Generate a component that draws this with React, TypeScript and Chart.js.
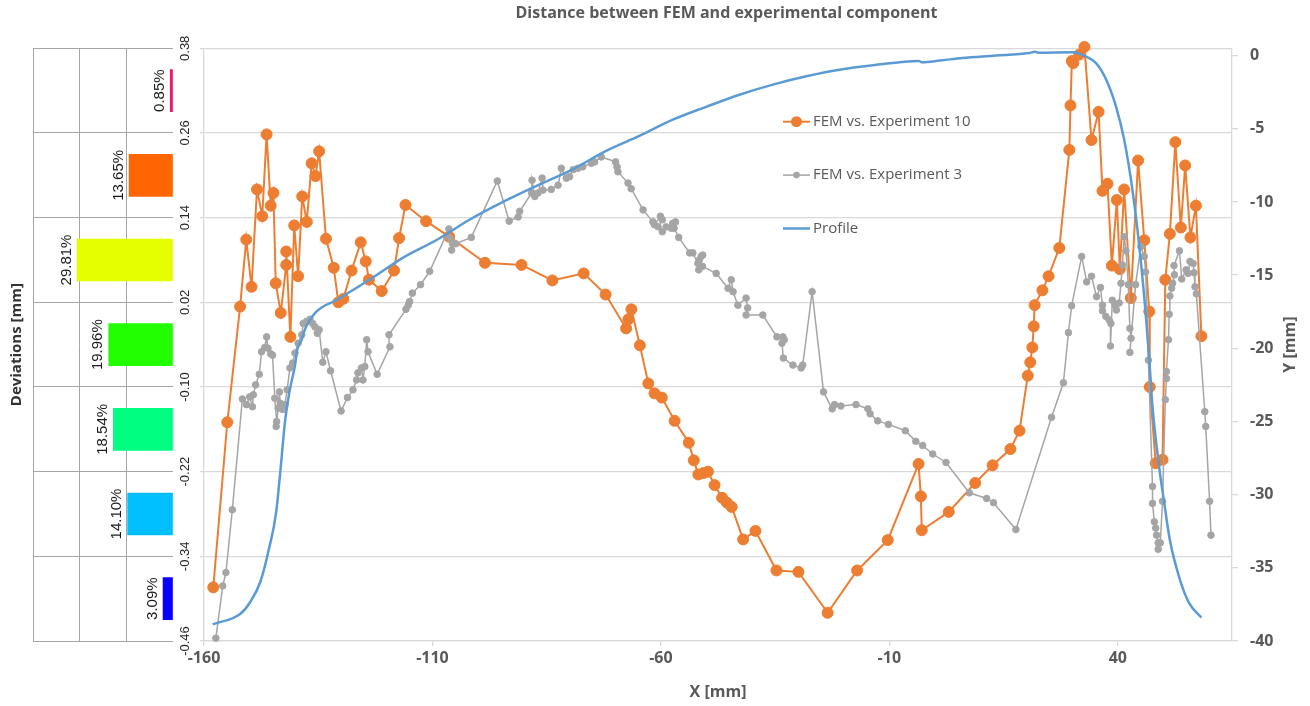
import React, { useEffect, useRef } from 'react';
import { Chart, registerables } from 'chart.js';

Chart.register(...registerables);

const TITLE = 'Distance between FEM and experimental component';
const X_TITLE = 'X [mm]';
const Y_TITLE = 'Y [mm]';
const DEV_TITLE = 'Deviations [mm]';

const X_TICKS = [-160, -110, -60, -10, 40];
const DEV_TICKS = [0.38, 0.26, 0.14, 0.02, -0.1, -0.22, -0.34, -0.46];
const Y_TICKS = [0, -5, -10, -15, -20, -25, -30, -35, -40];

const SERIES_NAMES = ['FEM vs. Experiment 10', 'FEM vs. Experiment 3', 'Profile'];

const EXP10_X = [
  -157.97, -154.9, -152.1, -150.75, -149.6, -148.4, -147.25, -146.3, -145.4, -144.8,
  -144.3, -143.2, -142.0, -142.0, -141.1, -140.25, -139.4, -138.5, -137.5, -136.45,
  -135.6, -134.8, -133.3, -131.6, -130.6, -129.5, -127.7, -125.7, -124.6, -123.9,
  -121.1, -118.4, -117.3, -115.9, -111.4, -106.35, -98.5, -90.5, -83.75, -76.9,
  -72.1, -67.6, -67.1, -66.45, -64.6, -62.75, -61.4, -59.8, -57.0, -53.9,
  -52.8, -51.8, -50.7, -49.7, -48.25, -46.6, -45.55, -44.5, -42.0, -39.3,
  -34.7, -29.9, -23.5, -17.05, -10.35, -3.6, -3.1, -2.9, 3.0, 8.8,
  12.6, 16.5, 18.5, 20.3, 20.85, 21.3, 21.6, 21.8, 23.5, 24.85,
  27.2, 29.4, 29.65, 29.95, 30.25, 31.55, 32.7, 34.25, 35.8, 36.65,
  37.75, 38.7, 39.8, 40.45, 41.4, 42.85, 44.45, 45.8, 46.9, 47.0,
  48.3, 49.8, 50.4, 51.4, 52.6, 53.8, 54.75, 55.9, 57.1, 58.3,
];
const EXP10_Y = [
  -0.384, -0.15, 0.014, 0.109, 0.042, 0.18, 0.142, 0.258, 0.157, 0.175,
  0.047, 0.005, 0.073, 0.092, -0.029, 0.129, 0.057, 0.17, 0.134, 0.217,
  0.199, 0.234, 0.11, 0.069, 0.02, 0.025, 0.065, 0.105, 0.078, 0.052,
  0.036, 0.065, 0.111, 0.158, 0.135, 0.113, 0.076, 0.073, 0.051, 0.061,
  0.031, -0.017, -0.004, 0.01, -0.041, -0.095, -0.109, -0.115, -0.148, -0.179,
  -0.204, -0.224, -0.222, -0.22, -0.239, -0.257, -0.264, -0.27, -0.316, -0.304,
  -0.36, -0.362, -0.42, -0.36, -0.317, -0.209, -0.255, -0.303, -0.277, -0.236,
  -0.211, -0.188, -0.162, -0.084, -0.065, -0.044, -0.014, 0.016, 0.037, 0.057,
  0.097, 0.236, 0.299, 0.362, 0.359, 0.371, 0.382, 0.25, 0.29, 0.178,
  0.188, 0.072, 0.165, 0.067, 0.18, 0.026, 0.221, 0.108, 0.007, -0.1,
  -0.208, -0.203, 0.052, 0.117, 0.247, 0.126, 0.214, 0.112, 0.157, -0.028,
];

const EXP3_X = [
  -157.4, -155.9, -155.2, -153.8, -151.6, -150.7, -150.0, -149.4, -149.2, -148.7,
  -147.9, -147.4, -146.7, -146.3, -146.0, -145.4, -145.0, -144.5, -144.1, -144.2,
  -143.75, -143.5, -143.3, -142.8, -142.3, -141.8, -141.2, -140.6, -140.1, -139.4,
  -138.6, -138.3, -137.55, -136.8, -136.2, -135.7, -135.2, -134.8, -134.0, -133.3,
  -132.3, -130.0, -128.6, -127.4, -126.6, -126.3, -125.55, -125.2, -124.8, -124.4,
  -124.1, -122.1, -119.3, -119.5, -115.8, -115.3, -115.0, -114.4, -112.6, -110.6,
  -106.4, -106.2, -105.8, -105.6, -104.9, -101.5, -95.8, -93.2, -91.25, -90.9,
  -88.3, -88.2, -87.6, -86.9, -86.0, -85.8, -84.0, -82.5, -81.8, -80.7,
  -80.0, -79.2, -78.15, -77.1, -75.2, -74.5, -73.05, -69.9, -69.6, -69.4,
  -67.2, -66.5, -63.9, -61.75, -61.4, -60.1, -59.7, -60.6, -59.7, -58.85,
  -57.7, -57.4, -56.8, -57.1, -56.1, -53.7, -53.0, -51.9, -51.6, -51.2,
  -50.85, -51.7, -50.9, -47.9, -45.3, -44.6, -44.2, -43.15, -41.35, -41.0,
  -41.35, -37.7, -34.6, -33.3, -33.0, -33.5, -33.2, -31.1, -29.3, -28.95,
  -26.9, -24.4, -22.5, -22.0, -20.6, -17.3, -14.7, -14.2, -12.55, -10.2,
  -6.5, -4.2, -2.7, -0.5, 2.4, 7.5, 11.3, 12.8, 17.7, 25.5,
  28.1, 29.2, 29.9, 32.1, 33.2, 34.25, 35.35, 36.2, 36.65, 36.65,
  37.4, 38.1, 38.5, 38.4, 38.8, 39.4, 39.7, 40.3, 40.7, 41.0,
  41.4, 41.8, 42.3, 42.65, 42.9, 42.65, 43.9, 45.05, 45.8, 46.1,
  46.7, 47.6, 47.6, 48.0, 48.3, 48.5, 48.85, 48.85, 49.3, 49.8,
  50.4, 50.65, 50.65, 51.1, 51.25, 51.4, 51.8, 52.0, 52.4, 52.3,
  53.5, 54.0, 54.95, 55.4, 55.8, 56.5, 56.7, 56.9, 57.2, 59.05,
  59.25, 60.1, 60.4,
];
const EXP3_Y = [
  -0.456, -0.382, -0.363, -0.274, -0.117, -0.125, -0.114, -0.128, -0.111, -0.097,
  -0.082, -0.05, -0.044, -0.029, -0.045, -0.053, -0.055, -0.116, -0.149, -0.156,
  -0.13, -0.107, -0.123, -0.132, -0.125, -0.104, -0.073, -0.066, -0.052, -0.038,
  -0.026, -0.01, -0.007, -0.004, -0.01, -0.015, -0.024, -0.019, -0.065, -0.05,
  -0.077, -0.134, -0.115, -0.104, -0.09, -0.08, -0.073, -0.09, -0.071, -0.033,
  -0.05, -0.082, -0.043, -0.026, 0.01, 0.016, 0.021, 0.033, 0.045, 0.064,
  0.124, 0.111, 0.094, 0.103, 0.103, 0.112, 0.192, 0.135, 0.141, 0.149,
  0.175, 0.193, 0.17, 0.175, 0.196, 0.179, 0.18, 0.186, 0.21, 0.196,
  0.198, 0.208, 0.21, 0.212, 0.217, 0.219, 0.226, 0.219, 0.212, 0.205,
  0.189, 0.181, 0.151, 0.134, 0.13, 0.142, 0.137, 0.127, 0.12, 0.127,
  0.125, 0.132, 0.134, 0.125, 0.112, 0.09, 0.09, 0.075, 0.08, 0.085,
  0.087, 0.066, 0.071, 0.061, 0.04, 0.052, 0.035, 0.016, 0.026, 0.012,
  0.002, 0.002, -0.029, -0.029, -0.033, -0.038, -0.059, -0.069, -0.073, -0.069,
  0.035, -0.107, -0.131, -0.125, -0.127, -0.125, -0.131, -0.138, -0.148, -0.153,
  -0.162, -0.177, -0.183, -0.195, -0.207, -0.25, -0.258, -0.264, -0.302, -0.143,
  -0.094, -0.023, 0.015, 0.085, 0.049, 0.057, 0.028, 0.041, 0.016, 0.008,
  0.0, -0.005, -0.01, -0.042, 0.023, 0.016, 0.009, 0.019, 0.047, 0.073,
  0.113, 0.093, 0.045, -0.017, -0.031, -0.051, 0.045, 0.099, 0.085, 0.063,
  -0.062, -0.241, -0.265, -0.291, -0.3, -0.31, -0.321, -0.33, -0.321, -0.262,
  -0.118, -0.088, -0.078, -0.033, 0.003, 0.029, 0.04, 0.047, 0.059, 0.072,
  0.093, 0.053, 0.066, 0.061, 0.078, 0.075, 0.062, 0.042, 0.032, -0.135,
  -0.156, -0.262, -0.31,
];

const PROFILE_X = [
  -158.1, -152.1, -149.9, -147.6, -145.7, -144.25, -143.2, -142.3, -141.2, -140.1,
  -139.6, -138.6, -137.9, -135.4, -131.0, -123.7, -116.4, -109.1, -101.8, -94.55,
  -86.5, -79.2, -71.9, -64.6, -57.4, -50.1, -42.8, -35.5, -28.2, -20.9,
  -13.6, -3.6, -2.9, 1.0, 6.0, 13.3, 20.6, 21.9, 22.6, 30.1,
  33.0, 35.2, 37.4, 39.6, 41.4, 43.2, 44.7, 46.1, 46.9, 47.6,
  49.05, 50.1, 51.4, 53.6, 55.6, 58.3,
];
const PROFILE_Y = [
  -38.86, -38.15, -37.35, -35.9, -33.6, -31.3, -28.1, -25.1, -22.8, -21.2,
  -20.1, -19.4, -18.7, -17.5, -16.7, -15.3, -13.8, -12.6, -11.2, -10.0,
  -8.8, -7.75, -6.5, -5.47, -4.38, -3.5, -2.67, -1.98, -1.41, -0.96,
  -0.66, -0.36, -0.45, -0.34, -0.16, 0.0, 0.18, 0.27, 0.2, 0.23,
  -0.05, -0.5, -1.6, -3.47, -5.74, -9.16, -13.0, -17.6, -20.8, -24.0,
  -28.1, -30.4, -33.1, -35.8, -37.4, -38.4,
];

const BIN_LABELS = ['0.26 … 0.38', '0.14 … 0.26', '0.02 … 0.14', '-0.10 … 0.02', '-0.22 … -0.10', '-0.34 … -0.22', '-0.46 … -0.34'];
const BIN_PCT = [0.85, 13.65, 29.81, 19.96, 18.54, 14.1, 3.09];
const BIN_COLORS = ['#F0146E', '#FF6600', '#E6FF00', '#22FF00', '#00FF80', '#00BFFF', '#0A00FF'];
const PCT_GRID = [0, 14.5, 29, 43.5];

const ORANGE = '#ED7D31';
const GRAY = '#A5A5A5';
const BLUE = '#5B9BD5';
const TEXT = '#595959';
const GRID = '#D9D9D9';
const SANS = "'Open Sans', 'Noto Sans', sans-serif";
const NARROW = "'Liberation Sans Narrow', 'Liberation Sans', Arial, sans-serif";

const toPoints = (xs: number[], ys: number[]) => xs.map((x, i) => ({ x, y: ys[i] }));

const overlayPlugin = {
  id: 'overlay',
  afterDraw(chart: any) {
    const ctx = chart.ctx;
    const area = chart.chartArea;
    ctx.save();
    // right axis title, reading bottom-to-top
    ctx.font = `bold 16px ${SANS}`;
    ctx.fillStyle = TEXT;
    ctx.textAlign = 'center';
    ctx.textBaseline = 'middle';
    ctx.translate(area.right + 58, (area.top + area.bottom) / 2);
    ctx.rotate(-Math.PI / 2);
    ctx.fillText(Y_TITLE, 0, 0);
    ctx.restore();

    // legend inside plot
    ctx.save();
    const lx = area.left + 579;
    const ly = area.top + 73.4;
    chart.data.datasets.forEach((ds: any, i: number) => {
      const y = ly + i * 53.4;
      ctx.strokeStyle = ds.borderColor;
      ctx.lineWidth = ds.borderWidth;
      ctx.beginPath();
      ctx.moveTo(lx, y);
      ctx.lineTo(lx + 27, y);
      ctx.stroke();
      if (ds.pointRadius > 0) {
        ctx.fillStyle = ds.borderColor;
        ctx.beginPath();
        ctx.arc(lx + 13.5, y, ds.pointRadius, 0, Math.PI * 2);
        ctx.fill();
      }
      ctx.font = `15px ${SANS}`;
      ctx.fillStyle = TEXT;
      ctx.textAlign = 'left';
      ctx.textBaseline = 'middle';
      ctx.fillText(ds.label, lx + 30, y);
    });
    ctx.restore();
  },
};

const pctLabelPlugin = {
  id: 'pctLabels',
  afterDatasetsDraw(chart: any) {
    const meta = chart.getDatasetMeta(0);
    const values = chart.data.datasets[0].data;
    const ctx = chart.ctx;
    ctx.save();
    ctx.font = `15px ${NARROW}`;
    ctx.fillStyle = '#1A1A1A';
    meta.data.forEach((bar: any, i: number) => {
      const { x, y } = bar.getProps(['x', 'y'], true);
      ctx.save();
      ctx.translate(x - 3, y);
      ctx.rotate(-Math.PI / 2);
      ctx.textAlign = 'center';
      ctx.textBaseline = 'bottom';
      ctx.fillText(values[i].toFixed(2) + '%', 0, 0);
      ctx.restore();
    });
    ctx.restore();
  },
};

export default function App() {
  const mainRef = useRef<HTMLCanvasElement>(null);
  const barRef = useRef<HTMLCanvasElement>(null);

  useEffect(() => {
    document.body.style.margin = '0';
    document.body.style.overflow = 'hidden';

    const main = new Chart(mainRef.current as HTMLCanvasElement, {
      type: 'scatter',
      data: {
        datasets: [
          {
            label: SERIES_NAMES[0],
            data: toPoints(EXP10_X, EXP10_Y),
            showLine: true,
            borderColor: ORANGE,
            backgroundColor: ORANGE,
            borderWidth: 2,
            pointRadius: 5.5,
            pointBorderWidth: 1,
            pointBackgroundColor: ORANGE,
            pointBorderColor: ORANGE,
            yAxisID: 'y',
            order: 3,
            clip: false,
          },
          {
            label: SERIES_NAMES[1],
            data: toPoints(EXP3_X, EXP3_Y),
            showLine: true,
            borderColor: GRAY,
            backgroundColor: GRAY,
            borderWidth: 1.5,
            pointRadius: 3.3,
            pointBorderWidth: 1,
            pointBackgroundColor: GRAY,
            pointBorderColor: GRAY,
            yAxisID: 'y',
            order: 2,
            clip: false,
          },
          {
            label: SERIES_NAMES[2],
            data: toPoints(PROFILE_X, PROFILE_Y),
            showLine: true,
            borderColor: BLUE,
            backgroundColor: BLUE,
            borderWidth: 2.5,
            pointRadius: 0,
            cubicInterpolationMode: 'monotone',
            yAxisID: 'y1',
            order: 1,
            clip: false,
          },
        ] as any,
      },
      options: {
        animation: false,
        responsive: false,
        events: [],
        layout: { padding: 0 },
        plugins: {
          legend: { display: false },
          tooltip: { enabled: false },
          title: {
            display: true,
            text: TITLE,
            color: TEXT,
            font: { family: SANS, size: 16, weight: 'bold' },
            padding: { top: 4, bottom: 25.1 },
          },
        },
        scales: {
          x: {
            type: 'linear',
            min: -160,
            max: 65,
            afterBuildTicks: (s: any) => { s.ticks = X_TICKS.map((v) => ({ value: v })); },
            afterFit: (s: any) => { s.height = 65; },
            grid: { drawOnChartArea: false, drawTicks: true, tickLength: 5, color: GRID, lineWidth: 1.3 },
            border: { display: true, color: GRID, width: 1.3 },
            ticks: {
              color: TEXT,
              font: { family: SANS, size: 16, weight: 'bold' },
              padding: 3,
              maxRotation: 0,
              callback: (v: any) => String(v),
            },
            title: {
              display: true,
              text: X_TITLE,
              color: TEXT,
              font: { family: SANS, size: 16, weight: 'bold' },
              padding: { top: 0, bottom: 4 },
            },
          },
          y: {
            type: 'linear',
            position: 'left',
            min: -0.46,
            max: 0.38,
            afterBuildTicks: (s: any) => { s.ticks = DEV_TICKS.map((v) => ({ value: v })); },
            afterFit: (s: any) => { s.width = 61; },
            grid: { color: GRID, lineWidth: 1.3, drawTicks: true, tickLength: 4 },
            border: { display: true, color: GRID, width: 1.3 },
            ticks: {
              color: '#262626',
              font: { family: NARROW, size: 13 },
              minRotation: 90,
              maxRotation: 90,
              crossAlign: 'center',
              padding: 0,
              callback: (v: any) => Number(v).toFixed(2),
            },
          },
          y1: {
            type: 'linear',
            position: 'right',
            min: -40,
            max: 0.5,
            afterBuildTicks: (s: any) => { s.ticks = Y_TICKS.map((v) => ({ value: v })); },
            afterFit: (s: any) => { s.width = 78; },
            grid: { drawOnChartArea: false, drawTicks: true, tickLength: 6, color: GRID, lineWidth: 1.3 },
            border: { display: true, color: GRID, width: 1.3 },
            ticks: {
              color: TEXT,
              font: { family: SANS, size: 16, weight: 'bold' },
              padding: 12,
              callback: (v: any) => String(v),
            },
          },
        },
      } as any,
      plugins: [overlayPlugin],
    });

    const bar = new Chart(barRef.current as HTMLCanvasElement, {
      type: 'bar',
      data: {
        labels: BIN_LABELS,
        datasets: [
          {
            data: BIN_PCT,
            backgroundColor: BIN_COLORS,
            borderWidth: 0,
            barThickness: 42,
          },
        ],
      },
      options: {
        animation: false,
        responsive: false,
        events: [],
        indexAxis: 'y',
        layout: { padding: { left: 5.5, right: 31, top: 48.3, bottom: 65 } },
        plugins: { legend: { display: false }, tooltip: { enabled: false }, title: { display: false } },
        scales: {
          x: {
            type: 'linear',
            min: 0,
            max: 43.5,
            reverse: true,
            afterBuildTicks: (s: any) => { s.ticks = PCT_GRID.map((v) => ({ value: v })); },
            ticks: { display: false },
            grid: {
              drawTicks: false,
              color: (c: any) => (c.tick && c.tick.value === 0 ? 'rgba(0,0,0,0)' : '#A6A6A6'),
              lineWidth: 1,
            },
            border: { display: false },
          },
          y: {
            type: 'category',
            ticks: { display: false },
            grid: { offset: true, drawTicks: false, color: '#A6A6A6', lineWidth: 1 },
            border: { display: false },
            title: {
              display: true,
              text: DEV_TITLE,
              color: '#333333',
              font: { family: SANS, size: 15, weight: 'bold' },
              padding: { top: 2, bottom: 7.5 },
            },
          },
        },
      } as any,
      plugins: [pctLabelPlugin],
    });

    return () => {
      main.destroy();
      bar.destroy();
    };
  }, []);

  return (
    <div style={{ position: 'relative', width: 1310, height: 706, background: '#ffffff' }}>
      <canvas ref={barRef} width={204} height={706} style={{ position: 'absolute', left: 0, top: 0, width: 204, height: 706 }} />
      <canvas ref={mainRef} width={1167} height={706} style={{ position: 'absolute', left: 143, top: 0, width: 1167, height: 706 }} />
    </div>
  );
}
